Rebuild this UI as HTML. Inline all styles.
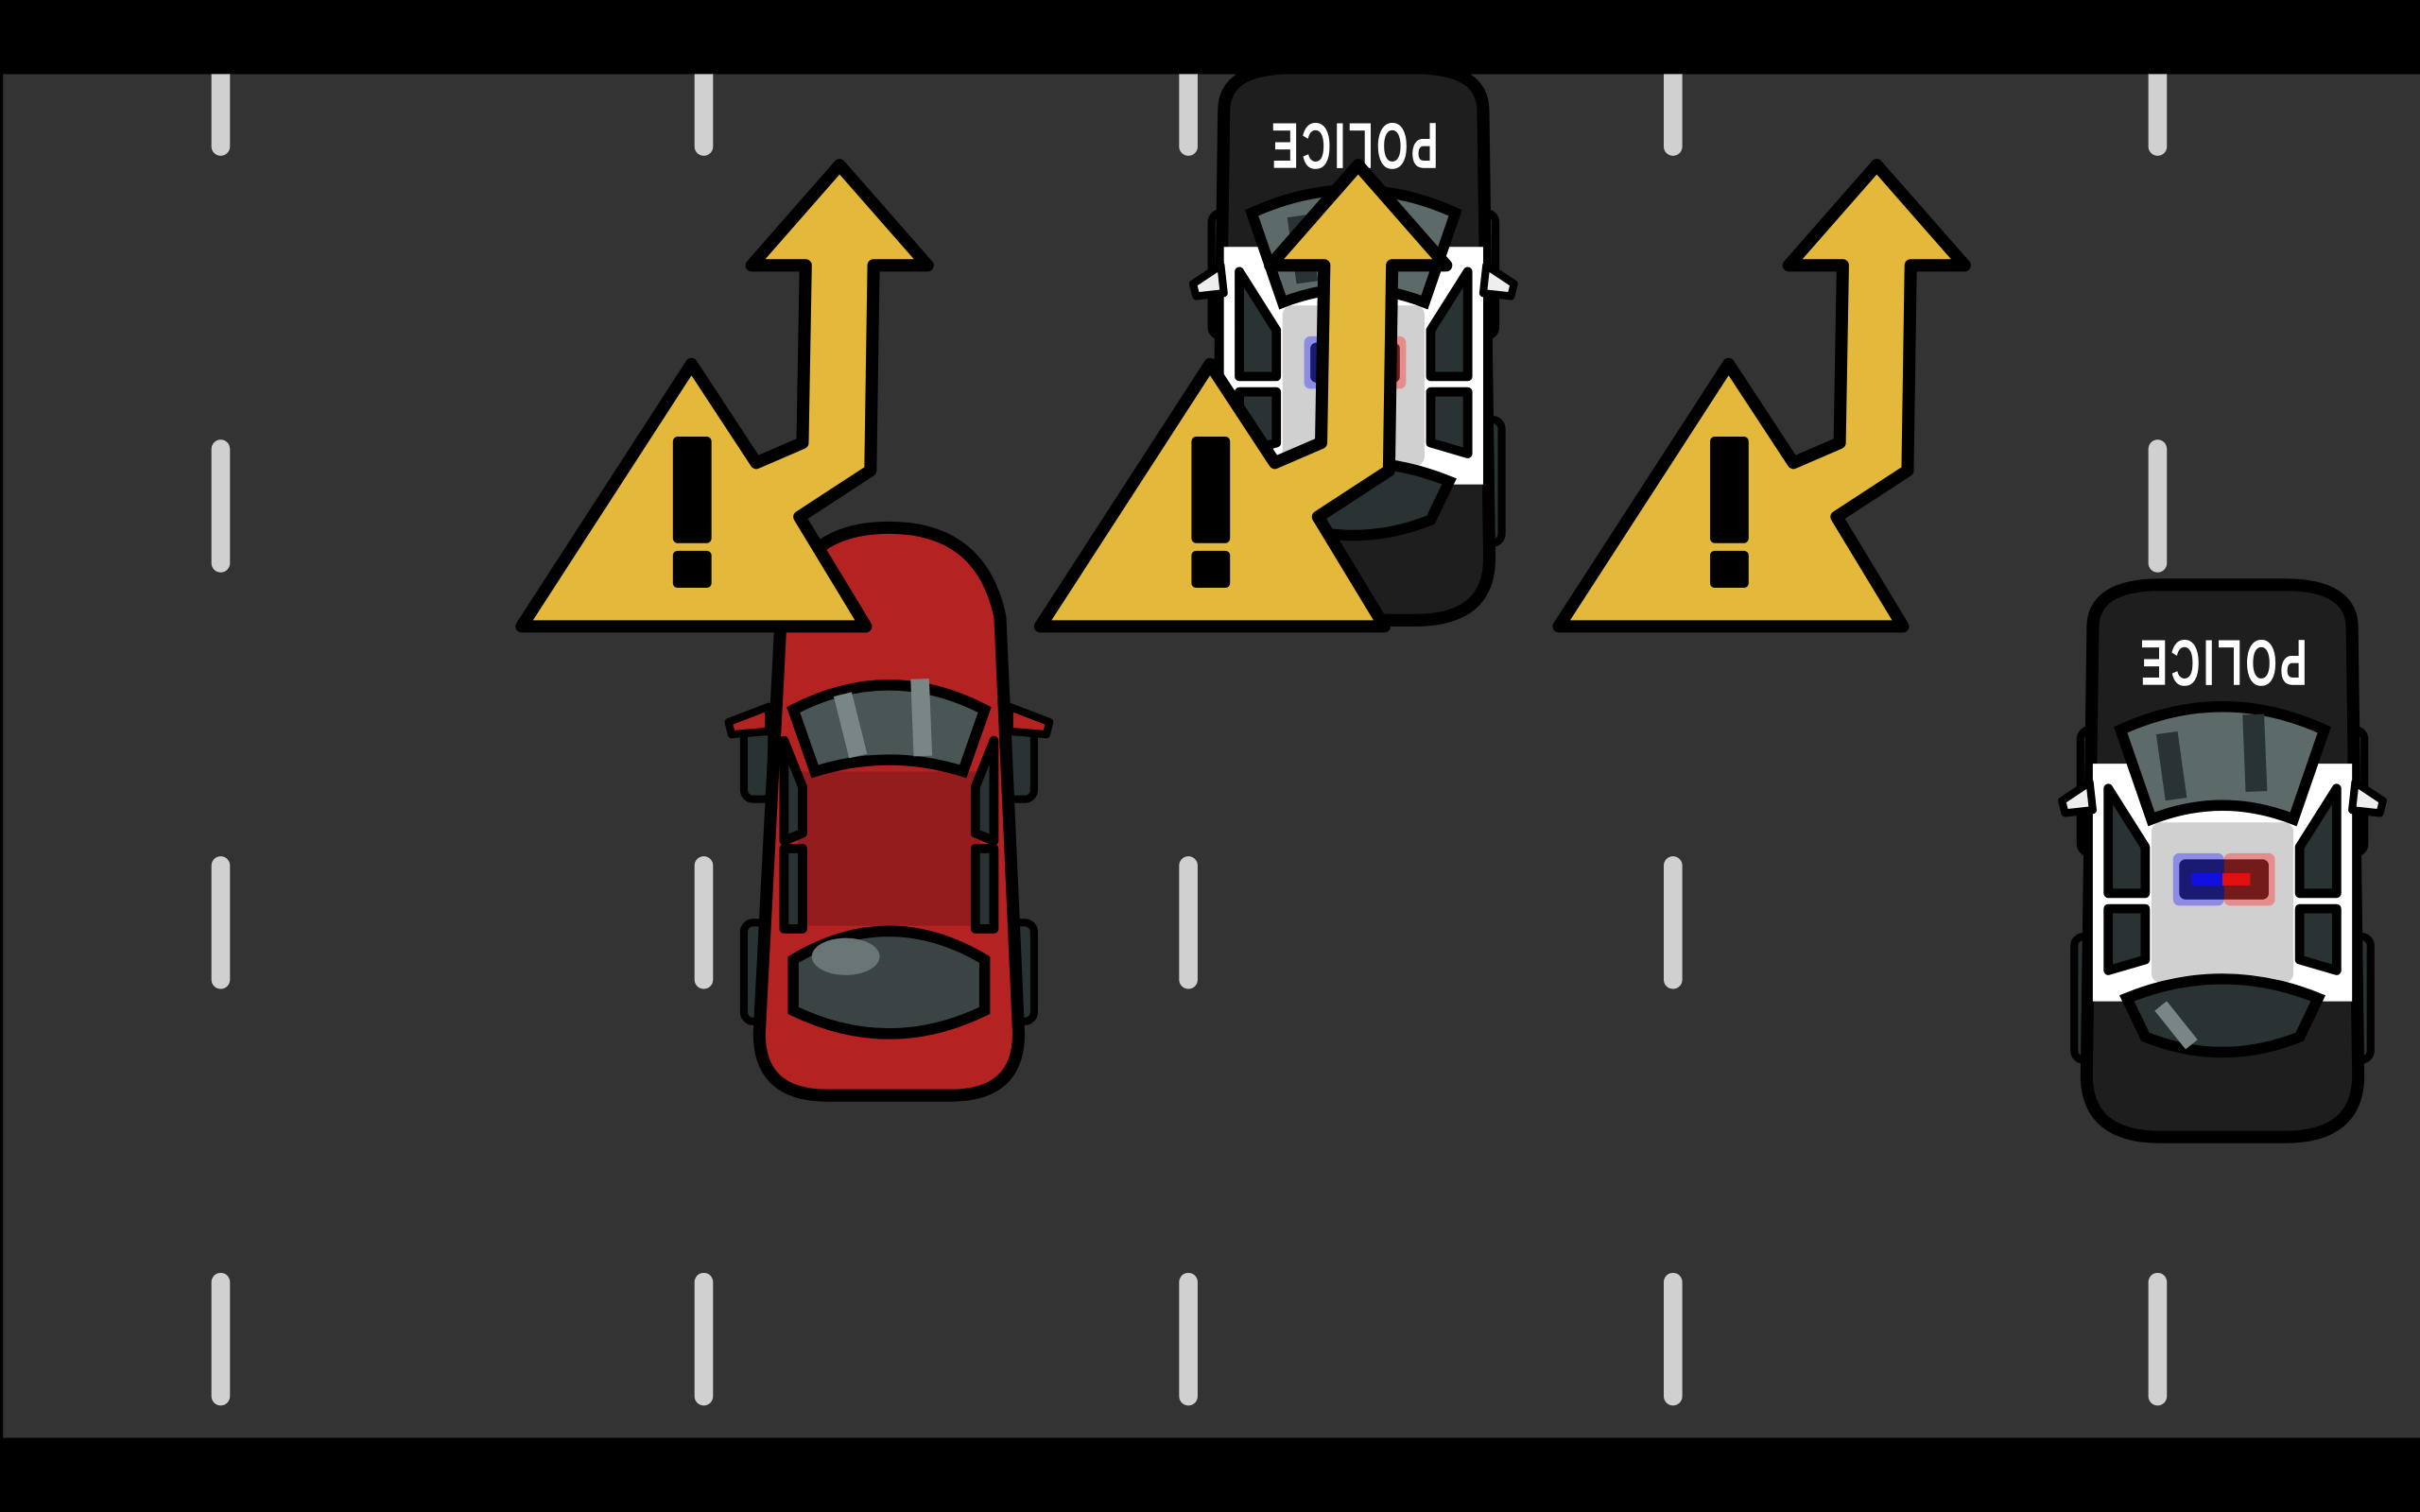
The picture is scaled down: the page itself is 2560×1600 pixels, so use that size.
<!DOCTYPE html>
<html><head><meta charset="utf-8"><style>html,body{margin:0;padding:0;background:#000;width:2560px;height:1600px;overflow:hidden}svg{display:block}</style></head>
<body>
<svg width="2560" height="1600" viewBox="0 0 1568 980" preserveAspectRatio="none" xmlns="http://www.w3.org/2000/svg">
<defs>
<g id="dash"><rect x="-6" y="0" width="12" height="86" rx="6" fill="#d0d0d0"/></g>
<g id="police">
  <rect x="-92" y="96" width="18" height="80" rx="6" fill="#2a3333" stroke="#000" stroke-width="5"/>
  <rect x="74" y="96" width="18" height="80" rx="6" fill="#2a3333" stroke="#000" stroke-width="5"/>
  <rect x="-96" y="230" width="20" height="80" rx="6" fill="#2a3333" stroke="#000" stroke-width="5"/>
  <rect x="76" y="230" width="20" height="80" rx="6" fill="#2a3333" stroke="#000" stroke-width="5"/>
  <path d="M-84,30 Q-84,2 -40,2 L40,2 Q84,2 84,30 L88,320 Q88,360 40,360 L-40,360 Q-88,360 -88,320 Z" fill="#1e1e1e" stroke="#000" stroke-width="8"/>
  <path d="M-84,118 L84,118 L84,272 L-84,272 Z" fill="#fff"/>
  <path d="M-66,96 Q0,66 66,96 L46,154 Q0,136 -46,154 Z" fill="#5d6a6a" stroke="#000" stroke-width="7"/>
  <path d="M-36,98 L-30,141 M20,86 L22,136" stroke="#2a3333" stroke-width="14"/>
  <rect x="-46" y="156" width="92" height="104" rx="6" fill="#d0d0d0"/>
  <rect x="-28" y="180" width="58" height="26" rx="4" fill="#000"/>
  <rect x="-32" y="176" width="33" height="34" rx="4" fill="#3a3aff" opacity=".45"/>
  <rect x="1" y="176" width="33" height="34" rx="4" fill="#ff3a3a" opacity=".45"/>
  <rect x="-20" y="189" width="20" height="8" fill="#1010e0"/><rect x="0" y="189" width="18" height="8" fill="#e01010"/>
  <path d="M-74,134 L-50,172 L-50,202 L-74,202 Z M74,134 L50,172 L50,202 L74,202 Z M-74,212 L-50,212 L-50,245 L-74,252 Z M74,212 L50,212 L50,245 L74,252 Z" fill="#2a3333" stroke="#000" stroke-width="6" stroke-linejoin="round"/>
  <path d="M-62,270 Q0,245 62,270 L50,295 Q0,315 -50,295 Z" fill="#2a3333" stroke="#000" stroke-width="7"/>
  <path d="M-40,275 L-20,300" stroke="#7a8585" stroke-width="10"/>
  <path d="M-86,130 L-104,142 L-102,150 L-84,148 Z M86,130 L104,142 L102,150 L84,148 Z" fill="#eee" stroke="#000" stroke-width="5" stroke-linejoin="round"/>
  <text x="0" y="-38" transform="rotate(180)" text-anchor="middle" font-family="Liberation Sans, sans-serif" font-weight="bold" font-size="42" fill="#fff" letter-spacing="3" textLength="110" lengthAdjust="spacingAndGlyphs">POLICE</text>
</g>
<g id="sign">
  <path d="M448,236 L490,300 L520,287 L522,172 L487,172 L544,107 L601,172 L566,172 L564,305 L518,335 L561,406 L338,406 Z" fill="#e4b83a" stroke="#000" stroke-width="8" stroke-linejoin="round"/>
  <rect x="436" y="283" width="25" height="69" rx="3" fill="#000"/>
  <rect x="436" y="357" width="25" height="24" rx="3" fill="#000"/>
</g>
</defs>
<rect width="1568" height="980" fill="#000"/>
<rect x="2" y="48" width="1566" height="884" fill="#333"/>
<g>
  <use href="#dash" x="143" y="15"/><use href="#dash" x="456" y="15"/><use href="#dash" x="770" y="15"/><use href="#dash" x="1084" y="15"/><use href="#dash" x="1398" y="15"/>
  <use href="#dash" x="143" y="285"/><use href="#dash" x="1398" y="285"/>
  <use href="#dash" x="143" y="555"/><use href="#dash" x="456" y="555"/><use href="#dash" x="770" y="555"/><use href="#dash" x="1084" y="555"/><use href="#dash" x="1398" y="555"/>
  <use href="#dash" x="143" y="825"/><use href="#dash" x="456" y="825"/><use href="#dash" x="770" y="825"/><use href="#dash" x="1084" y="825"/><use href="#dash" x="1398" y="825"/>
</g>
<use href="#police" transform="translate(877,42)"/>
<use href="#police" transform="translate(1440,377)"/>
<g transform="translate(576,340)">
  <rect x="-94" y="128" width="18" height="50" rx="6" fill="#2a3333" stroke="#000" stroke-width="5"/>
  <rect x="76" y="128" width="18" height="50" rx="6" fill="#2a3333" stroke="#000" stroke-width="5"/>
  <rect x="-94" y="258" width="18" height="64" rx="6" fill="#2a3333" stroke="#000" stroke-width="5"/>
  <rect x="76" y="258" width="18" height="64" rx="6" fill="#2a3333" stroke="#000" stroke-width="5"/>
  <path d="M-70,60 Q-60,2 0,2 Q60,2 72,60 L84,330 Q84,370 40,370 L-40,370 Q-84,370 -84,330 Z" fill="#b52222" stroke="#000" stroke-width="8"/>
  <path d="M-60,160 L60,160 L58,260 L-58,260 Z" fill="#951c1c"/>
  <path d="M-62,120 Q0,88 62,120 L48,160 Q0,145 -48,160 Z" fill="#4a5555" stroke="#000" stroke-width="7"/>
  <path d="M-30,110 L-20,150 M20,100 L22,150" stroke="#7a8585" stroke-width="12"/>
  <path d="M-68,140 L-56,170 L-56,200 L-68,205 Z M68,140 L56,170 L56,200 L68,205 Z M-68,210 L-56,210 L-56,262 L-68,262 Z M68,210 L56,210 L56,262 L68,262 Z" fill="#2a3333" stroke="#000" stroke-width="6" stroke-linejoin="round"/>
  <path d="M-62,282 Q0,245 62,282 L62,315 Q0,345 -62,315 Z" fill="#3a4444" stroke="#000" stroke-width="7"/>
  <ellipse cx="-28" cy="280" rx="22" ry="12" fill="#6a7575"/>
  <path d="M-78,118 L-104,128 L-102,136 L-78,134 Z M78,118 L104,128 L102,136 L78,134 Z" fill="#b52222" stroke="#000" stroke-width="5" stroke-linejoin="round"/>
</g>
<use href="#sign"/>
<use href="#sign" x="336"/>
<use href="#sign" x="672"/>
<rect x="0" y="0" width="1568" height="48" fill="#000"/>
<rect x="0" y="932" width="1568" height="48" fill="#000"/>
</svg>
</body></html>
